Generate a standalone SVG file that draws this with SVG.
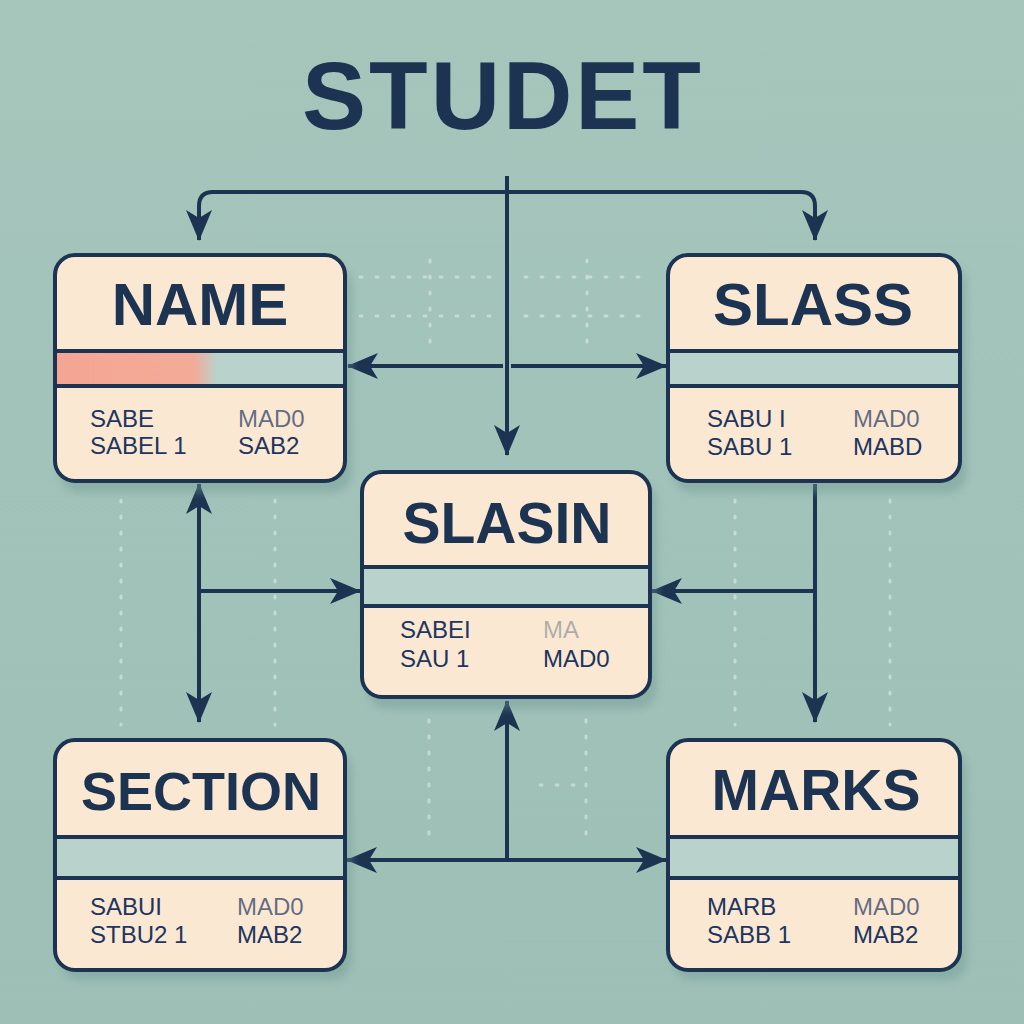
<svg xmlns="http://www.w3.org/2000/svg" width="1024" height="1024" viewBox="0 0 1024 1024">
<defs>
<linearGradient id="bg" x1="0" y1="0" x2="0" y2="1">
<stop offset="0" stop-color="#a6c6bc"/>
<stop offset="1" stop-color="#9dbfb6"/>
</linearGradient>
<linearGradient id="salmon" x1="0" y1="0" x2="1" y2="0">
<stop offset="0" stop-color="#f4a594"/>
<stop offset="0.48" stop-color="#f3ab98"/>
<stop offset="0.56" stop-color="#b9d3cc"/>
<stop offset="1" stop-color="#b9d3cc"/>
</linearGradient>
<filter id="sh" x="-10%" y="-10%" width="130%" height="130%">
<feGaussianBlur stdDeviation="4"/>
</filter>
<marker id="arr" viewBox="0 0 32 28" refX="30" refY="14" markerWidth="32" markerHeight="28" markerUnits="userSpaceOnUse" orient="auto-start-reverse">
<path d="M0,1 L31,14 L0,27 L8,14 Z" fill="#1c3352"/>
</marker>
<style>
.box{fill:#fae8d2}
.frame{fill:none;stroke:#1c3352;stroke-width:4}
.band{fill:#b9d3cc}
.div{stroke:#1c3352;stroke-width:4}
.shadow{fill:#6f9a93;opacity:0.45;filter:url(#sh)}
.title{font-family:"Liberation Sans",Arial,sans-serif;font-weight:bold;fill:#1c3352;text-anchor:middle}
.body{font-family:"Liberation Sans",Arial,sans-serif;font-size:24px;fill:#1d3560}
.faint{fill-opacity:0.7}
.conn{fill:none;stroke:#1c3352;stroke-width:4}
.dot{stroke:#ffffff;stroke-opacity:0.4;stroke-width:3;stroke-linecap:round;stroke-dasharray:2 14;fill:none}
</style>
</defs>
<rect width="1024" height="1024" fill="url(#bg)"/>

<g id="grid">
<path class="dot" d="M430,260 V350 M587,260 V350 M360,277 H490 M525,277 H650 M360,316 H490 M525,316 H650"/>
<path class="dot" d="M121,500 V725 M275,500 V725 M735,500 V725 M890,500 V725"/>
<path class="dot" d="M429,720 V845 M586,720 V845 M540,785 H586"/>
</g>

<text id="title" class="title" x="503" y="129" font-size="96" letter-spacing="3">STUDET</text>

<g id="connectors">
<path class="conn" d="M507,176 V455" marker-end="url(#arr)"/>
<path class="conn" d="M199,240 V206 Q199,192 213,192 H801 Q815,192 815,206 V240" marker-start="url(#arr)" marker-end="url(#arr)"/>
<path class="conn" d="M503,366 H348" marker-end="url(#arr)"/>
<path class="conn" d="M511,366 H666" marker-end="url(#arr)"/>
<path class="conn" d="M199,484 V722" marker-start="url(#arr)" marker-end="url(#arr)"/>
<path class="conn" d="M199,591 H360" marker-end="url(#arr)"/>
<path class="conn" d="M815,484 V722" marker-end="url(#arr)"/>
<path class="conn" d="M815,591 H652" marker-end="url(#arr)"/>
<path class="conn" d="M507,860 V701" marker-end="url(#arr)"/>
<path class="conn" d="M507,860 H347" marker-end="url(#arr)"/>
<path class="conn" d="M507,860 H666" marker-end="url(#arr)"/>
</g>

<g id="node-name">
<rect class="shadow" x="60" y="265" width="292" height="228" rx="20"/>
<rect class="box" x="55" y="255" width="290" height="226" rx="20"/>
<rect x="57" y="351" width="286" height="35" fill="url(#salmon)"/>
<line class="div" x1="55" y1="351" x2="345" y2="351"/>
<line class="div" x1="55" y1="386" x2="345" y2="386"/>
<rect class="frame" x="55" y="255" width="290" height="226" rx="20"/>
<text class="title" x="200" y="325" font-size="60">NAME</text>
<text class="body" x="90" y="427">SABE</text>
<text class="body" x="90" y="454">SABEL 1</text>
<text class="body faint" x="238" y="427">MAD0</text>
<text class="body" x="238" y="454">SAB2</text>
</g>

<g id="node-slass">
<rect class="shadow" x="673" y="265" width="294" height="228" rx="20"/>
<rect class="box" x="668" y="255" width="292" height="226" rx="20"/>
<rect class="band" x="670" y="351" width="288" height="35"/>
<line class="div" x1="668" y1="351" x2="960" y2="351"/>
<line class="div" x1="668" y1="386" x2="960" y2="386"/>
<rect class="frame" x="668" y="255" width="292" height="226" rx="20"/>
<text class="title" x="813" y="325" font-size="60">SLASS</text>
<text class="body" x="707" y="427">SABU I</text>
<text class="body" x="707" y="455">SABU 1</text>
<text class="body faint" x="853" y="427">MAD0</text>
<text class="body" x="853" y="455">MABD</text>
</g>

<g id="node-slasin">
<rect class="shadow" x="367" y="482" width="290" height="227" rx="20"/>
<rect class="box" x="362" y="472" width="288" height="225" rx="20"/>
<rect class="band" x="364" y="567" width="284" height="39"/>
<line class="div" x1="362" y1="567" x2="650" y2="567"/>
<line class="div" x1="362" y1="606" x2="650" y2="606"/>
<rect class="frame" x="362" y="472" width="288" height="225" rx="20"/>
<text class="title" x="507" y="543" font-size="57">SLASIN</text>
<text class="body" x="400" y="638">SABEI</text>
<text class="body" x="400" y="667">SAU 1</text>
<text class="body" x="543" y="638" fill-opacity="0.35">MA</text>
<text class="body" x="543" y="667">MAD0</text>
</g>

<g id="node-section">
<rect class="shadow" x="60" y="750" width="292" height="230" rx="20"/>
<rect class="box" x="55" y="740" width="290" height="230" rx="20"/>
<rect class="band" x="57" y="837" width="286" height="41"/>
<line class="div" x1="55" y1="837" x2="345" y2="837"/>
<line class="div" x1="55" y1="878" x2="345" y2="878"/>
<rect class="frame" x="55" y="740" width="290" height="230" rx="20"/>
<text class="title" x="201" y="810" font-size="54">SECTION</text>
<text class="body" x="90" y="915">SABUI</text>
<text class="body" x="90" y="943">STBU2 1</text>
<text class="body faint" x="237" y="915">MAD0</text>
<text class="body" x="237" y="943">MAB2</text>
</g>

<g id="node-marks">
<rect class="shadow" x="673" y="750" width="294" height="230" rx="20"/>
<rect class="box" x="668" y="740" width="292" height="230" rx="20"/>
<rect class="band" x="670" y="837" width="288" height="41"/>
<line class="div" x1="668" y1="837" x2="960" y2="837"/>
<line class="div" x1="668" y1="878" x2="960" y2="878"/>
<rect class="frame" x="668" y="740" width="292" height="230" rx="20"/>
<text class="title" x="816" y="810" font-size="57">MARKS</text>
<text class="body" x="707" y="915">MARB</text>
<text class="body" x="707" y="943">SABB 1</text>
<text class="body faint" x="853" y="915">MAD0</text>
<text class="body" x="853" y="943">MAB2</text>
</g>
</svg>
